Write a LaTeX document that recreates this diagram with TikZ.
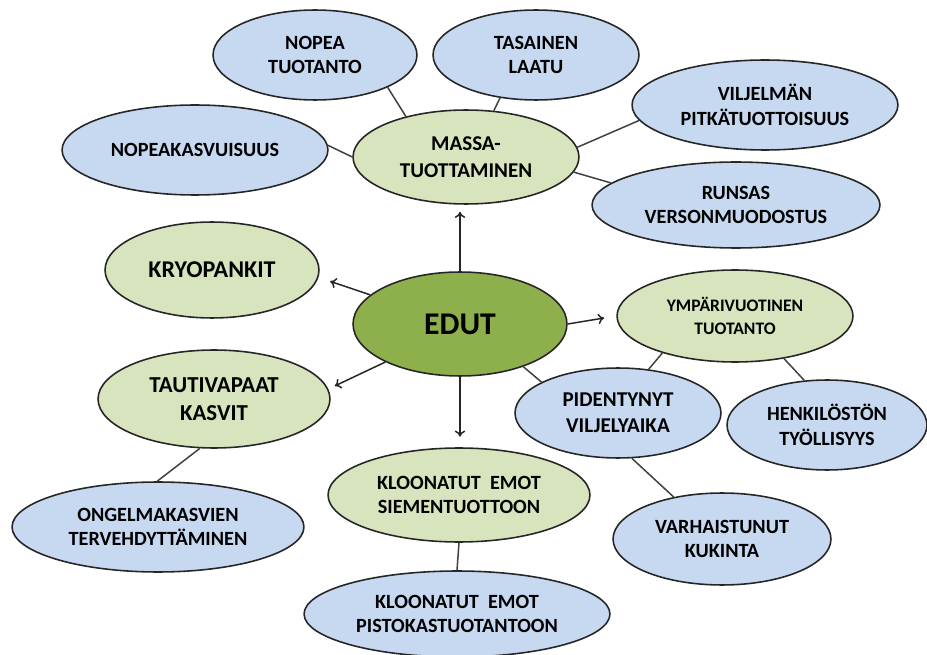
\documentclass[tikz,border=0pt]{standalone}
\usepackage{fontspec}
\setmainfont{Carlito}
\usetikzlibrary{shapes.geometric,arrows.meta}
\definecolor{leafblue}{HTML}{C6D9F1}
\definecolor{branchgreen}{HTML}{D7E4BD}
\definecolor{rootgreen}{HTML}{8DB04C}

\begin{document}
\begin{tikzpicture}[x=0.02cm,y=-0.02cm,
  blob/.style={ellipse,draw=black!85,line width=0.9pt,inner sep=0pt,align=center,font=\bfseries\fontsize{11.5}{14}\selectfont},
  leaf/.style={blob,fill=leafblue},
  branch/.style={blob,fill=branchgreen},
  sz/.style 2 args={minimum width=#1*0.04cm,minimum height=#2*0.04cm},
  link/.style={draw=black!75,line width=0.85pt},
  arr/.style={-{To[length=3.5pt,width=6pt]},black!85,line width=0.85pt}]
\useasboundingbox (0,0) rectangle (927,655);
% centre
\node[blob,fill=rootgreen,sz={107}{52},font=\bfseries\fontsize{18}{20}\selectfont] (edut) at (460,324) {EDUT};
% main branches
\node[branch,sz={113}{47},font=\bfseries\fontsize{12}{15}\selectfont] (massa) at (466,157) {MASSA-\\TUOTTAMINEN};
\node[branch,sz={107}{48},font=\bfseries\fontsize{13.7}{16}\selectfont] (kryo) at (212,270) {KRYOPANKIT};
\node[branch,sz={116}{49},font=\bfseries\fontsize{13}{16}\selectfont] (tauti) at (214,399) {TAUTIVAPAAT\\KASVIT};
\node[branch,sz={131}{47}] (siemen) at (459,495) {KLOONATUT~ EMOT\\SIEMENTUOTTOON};
\node[branch,sz={118}{46},font=\bfseries\fontsize{10}{13}\selectfont] (ympari) at (735,316) {YMPÄRIVUOTINEN\\TUOTANTO};
% leaves
\node[leaf,sz={102}{45}] (nopea) at (315,55) {NOPEA\\TUOTANTO};
\node[leaf,sz={103}{45}] (tasainen) at (536,55) {TASAINEN\\LAATU};
\node[leaf,sz={133}{45}] (nopeak) at (195,150) {NOPEAKASVUISUUS};
\node[leaf,sz={133}{45}] (viljelma) at (765,105) {VILJELMÄN\\PITKÄTUOTTOISUUS};
\node[leaf,sz={144}{43}] (runsas) at (736,205) {RUNSAS\\VERSONMUODOSTUS};
\node[leaf,sz={103}{45},font=\bfseries\fontsize{12}{15}\selectfont] (piden) at (618,413) {PIDENTYNYT\\VILJELYAIKA};
\node[leaf,sz={100}{45}] (henk) at (827,425) {HENKILÖSTÖN\\TYÖLLISYYS};
\node[leaf,sz={109}{46}] (varh) at (722,539) {VARHAISTUNUT\\KUKINTA};
\node[leaf,sz={146}{45}] (ongel) at (158,527) {ONGELMAKASVIEN\\TERVEHDYTTÄMINEN};
\node[leaf,sz={153}{43}] (pisto) at (457,614) {KLOONATUT~ EMOT\\PISTOKASTUOTANTOON};
% arrows out of the centre
\draw[arr,shorten >=4pt] (edut.north) -- (edut.north |- massa.south);
\draw[arr,shorten >=7pt] (edut.162) -- (kryo.-4);
\draw[arr,shorten >=7pt] (edut.east) -- (ympari.west);
\draw[arr,shorten >=4pt] (edut.207) -- (tauti.5);
\draw[arr,shorten >=6pt] (edut.south) -- (edut.south |- siemen.north);
% plain links
\foreach \a/\b in {massa.146/nopea.-24, massa.59/tasainen.-130, massa.180/nopeak.2,
  massa.5/viljelma.187, massa.-8/runsas.170, edut.-34/piden.158,
  ympari.-153/piden.55, ympari.-41/henk.117, piden.-73/varh.139,
  tauti.-106/ongel.91, siemen.south/pisto.north}
  \draw[link] (\a) -- (\b);
\end{tikzpicture}
\end{document}
